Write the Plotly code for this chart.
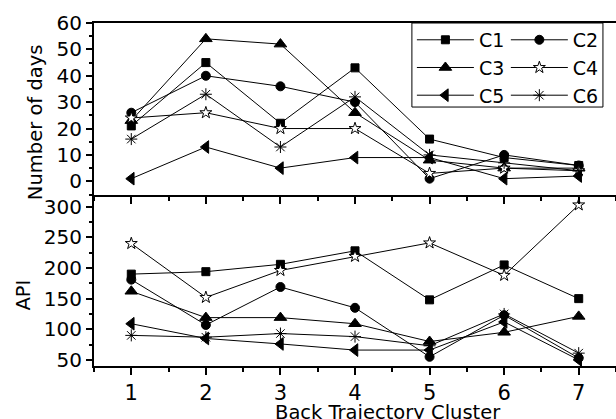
import plotly.graph_objects as go

clusters = [1, 2, 3, 4, 5, 6, 7]
names = ["C1", "C2", "C3", "C4", "C5", "C6"]

days_c1 = [21, 45, 22, 43, 16, 9, 6]
days_c2 = [26, 40, 36, 30, 1, 10, 6]
days_c3 = [23, 54, 52, 26, 8, 5, 5]
days_c4 = [24, 26, 20, 20, 3, 5, 4]
days_c5 = [1, 13, 5, 9, 9, 1, 2]
days_c6 = [16, 33, 13, 32, 10, 7, 4]

api_c1 = [190, 194, 206, 228, 148, 205, 150]
api_c2 = [181, 107, 169, 135, 55, 123, 53]
api_c3 = [162, 119, 119, 109, 80, 95, 121]
api_c4 = [240, 152, 196, 219, 241, 188, 303]
api_c5 = [109, 85, 76, 66, 66, 112, 50]
api_c6 = [90, 87, 93, 88, 73, 125, 61]

days = [days_c1, days_c2, days_c3, days_c4, days_c5, days_c6]
api = [api_c1, api_c2, api_c3, api_c4, api_c5, api_c6]

symbols = ["square", "circle", "triangle-up", "star", "triangle-left", "asterisk-open"]
sizes = [8, 9, 11, 9, 11, 10]
fills = ["black", "black", "black", "white", "black", "black"]

FONT = "DejaVu Sans"

fig = go.Figure()
for i in range(6):
    mk = dict(symbol=symbols[i], size=sizes[i], color=fills[i],
              line=dict(color="black", width=1))
    fig.add_trace(go.Scatter(
        x=clusters, y=days[i], xaxis="x2", yaxis="y2", mode="lines+markers",
        name=names[i], line=dict(color="black", width=1), marker=mk,
        legend="legend" if i % 2 == 0 else "legend2"))
    fig.add_trace(go.Scatter(
        x=clusters, y=api[i], xaxis="x", yaxis="y", mode="lines+markers",
        name=names[i], line=dict(color="black", width=1), marker=mk,
        showlegend=False))

axis_common = dict(showgrid=False, zeroline=False, showline=True, linecolor="black",
                   linewidth=2, ticks="outside", tickcolor="black", tickwidth=1.5)

fig.update_layout(
    width=616, height=419,
    margin=dict(l=94, r=0, t=23, b=53),
    paper_bgcolor="white", plot_bgcolor="white",
    font=dict(family=FONT, color="black"),
    xaxis=dict(domain=[0, 1], anchor="y", range=[0.5, 7.5], tick0=0, dtick=1,
               ticklen=7, tickfont=dict(size=21),
               minor=dict(dtick=0.5, tick0=0, ticks="outside", ticklen=4,
                          tickcolor="black", tickwidth=1.5),
               **axis_common),
    xaxis2=dict(domain=[0, 1], anchor="y2", matches="x", range=[0.5, 7.5], tick0=0, dtick=1,
                ticklen=7, showticklabels=False, mirror=True,
                minor=dict(dtick=0.5, tick0=0, ticks="outside", ticklen=4,
                           tickcolor="black", tickwidth=1.5),
                **axis_common),
    yaxis=dict(domain=[0, 0.5], anchor="x", range=[40, 320], tick0=0, dtick=50,
               ticklen=6, tickfont=dict(size=20),
               minor=dict(dtick=25, tick0=0, ticks="outside", ticklen=3.5,
                          tickcolor="black", tickwidth=1.5),
               **axis_common),
    yaxis2=dict(domain=[0.5, 1], anchor="x2", range=[-5, 60], tick0=0, dtick=10,
                ticklen=6, tickfont=dict(size=20),
                minor=dict(dtick=5, tick0=0, ticks="outside", ticklen=3.5,
                           tickcolor="black", tickwidth=1.5),
                **axis_common),
    legend=dict(x=0.609, y=1.006, xanchor="left", yanchor="top", xref="paper", yref="paper",
                bgcolor="rgba(0,0,0,0)", borderwidth=0, itemwidth=57,
                font=dict(size=19, family=FONT), tracegroupgap=0),
    legend2=dict(x=0.789, y=1.006, xanchor="left", yanchor="top", xref="paper", yref="paper",
                 bgcolor="rgba(0,0,0,0)", borderwidth=0, itemwidth=57,
                 font=dict(size=19, family=FONT), tracegroupgap=0),
    shapes=[dict(type="rect", xref="paper", yref="paper", x0=0.609, x1=0.975,
                 y0=0.755, y1=1.0, line=dict(color="black", width=1),
                 fillcolor="rgba(0,0,0,0)", layer="above")],
    annotations=[
        dict(text="Number of days", xref="paper", yref="paper", x=-0.113, y=0.711,
             textangle=-90, showarrow=False, font=dict(size=19.5),
             xanchor="center", yanchor="middle"),
        dict(text="API", xref="paper", yref="paper", x=-0.135, y=0.207,
             textangle=-90, showarrow=False, font=dict(size=19.5),
             xanchor="center", yanchor="middle"),
        dict(text="Back Trajectory Cluster", xref="paper", yref="paper", x=0.563,
             y=-0.097, showarrow=False, font=dict(size=19.5),
             xanchor="center", yanchor="top"),
    ],
)

fig.write_html("out.html")
